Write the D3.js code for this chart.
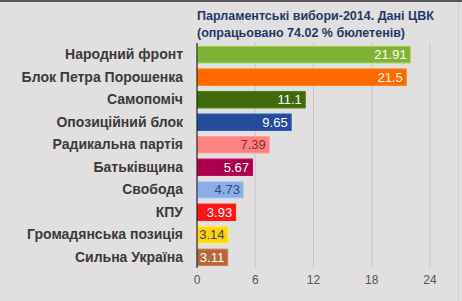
<!DOCTYPE html>
<html>
<head>
<meta charset="utf-8">
<script src="https://cdn.jsdelivr.net/npm/d3@7"></script>
<style>
  body { margin: 0; background: #e1dfe0; }
  svg { display: block; }
</style>
</head>
<body>
<svg id="chart"></svg>
<script>
// party names, results (% of votes), bar colours
const parties = ["Народний фронт", "Блок Петра Порошенка", "Самопоміч", "Опозиційний блок",
  "Радикальна партія", "Батьківщина", "Свобода", "КПУ", "Громадянська позиція", "Сильна Україна"];
const results = [21.91, 21.5, 11.1, 9.65, 7.39, 5.67, 4.73, 3.93, 3.14, 3.11];
const barColors = ["#80b234", "#ff6a00", "#3f6a0a", "#264a9c", "#ff8283", "#a8004c",
  "#8dade6", "#ff1414", "#ffd214", "#b5683a"];
const labelColors = ["#fff", "#fff", "#fff", "#fff", "#8a2a2a", "#fff", "#2b4c80", "#fff", "#444", "#fff"];
const xTicks = [0, 6, 12, 18, 24];

const W = 462, H = 301;
const svg = d3.select("#chart").attr("width", W).attr("height", H);

svg.append("rect").attr("width", W).attr("height", H).attr("fill", "#e1dfe0");
// frame lines
svg.append("rect").attr("x", 0).attr("y", 0).attr("width", W).attr("height", 2).attr("fill", "#5a5a5a");
svg.append("rect").attr("x", 458).attr("y", 2).attr("width", 1).attr("height", H).attr("fill", "#cfcdce");

const x = d3.scaleLinear().domain([0, 24]).range([197, 430]);
const y = d3.scaleBand().domain(parties).range([43, 268]).paddingInner(0.27).paddingOuter(0.13);

// grid
svg.append("g").selectAll("line")
  .data(xTicks.slice(1))
  .join("line")
  .attr("x1", d => x(d)).attr("x2", d => x(d))
  .attr("y1", 43).attr("y2", 268)
  .attr("stroke", "#c8c6c7").attr("stroke-width", 1);

// title
const title = svg.append("text")
  .attr("font-family", "Liberation Sans, Arial, sans-serif")
  .attr("font-size", 12.5).attr("font-weight", "bold")
  .attr("fill", "#1f3866");
title.append("tspan").attr("x", 197).attr("y", 20).text("Парламентські вибори-2014. Дані ЦВК");
title.append("tspan").attr("x", 197).attr("y", 37).text("(опрацьовано 74.02 % бюлетенів)");

// bars
const rows = parties.map((p, i) => ({ p, v: results[i], c: barColors[i], lc: labelColors[i] }));

svg.append("g").selectAll("rect")
  .data(rows)
  .join("rect")
  .attr("x", x(0) + 0.5)
  .attr("y", d => y(d.p) + 0.5)
  .attr("width", d => x(d.v) - x(0))
  .attr("height", y.bandwidth())
  .attr("fill", d => d.c)
  .attr("stroke", d => d3.color(d.c).brighter(0.5))
  .attr("stroke-width", 1);

svg.append("g").selectAll("text")
  .data(rows)
  .join("text")
  .attr("x", d => x(d.v) - 3)
  .attr("y", d => y(d.p) + y.bandwidth() / 2 + 5)
  .attr("text-anchor", "end")
  .attr("font-family", "Liberation Sans, Arial, sans-serif")
  .attr("font-size", 13)
  .attr("fill", d => d.lc)
  .text(d => d.v);

// category labels
svg.append("g").selectAll("text")
  .data(rows)
  .join("text")
  .attr("x", 183)
  .attr("y", d => y(d.p) + y.bandwidth() / 2 + 5)
  .attr("text-anchor", "end")
  .attr("font-family", "Liberation Sans, Arial, sans-serif")
  .attr("font-size", 14).attr("font-weight", "bold")
  .attr("fill", "#3a3a3a")
  .text(d => d.p);

// axis line
svg.append("line")
  .attr("x1", x(0)).attr("x2", x(0))
  .attr("y1", 43).attr("y2", 268)
  .attr("stroke", "#222").attr("stroke-width", 1.2);

// x tick labels
svg.append("g").selectAll("text")
  .data(xTicks)
  .join("text")
  .attr("x", d => x(d))
  .attr("y", 284)
  .attr("text-anchor", "middle")
  .attr("font-family", "Liberation Sans, Arial, sans-serif")
  .attr("font-size", 12)
  .attr("fill", "#555")
  .text(d => d);
</script>
</body>
</html>
